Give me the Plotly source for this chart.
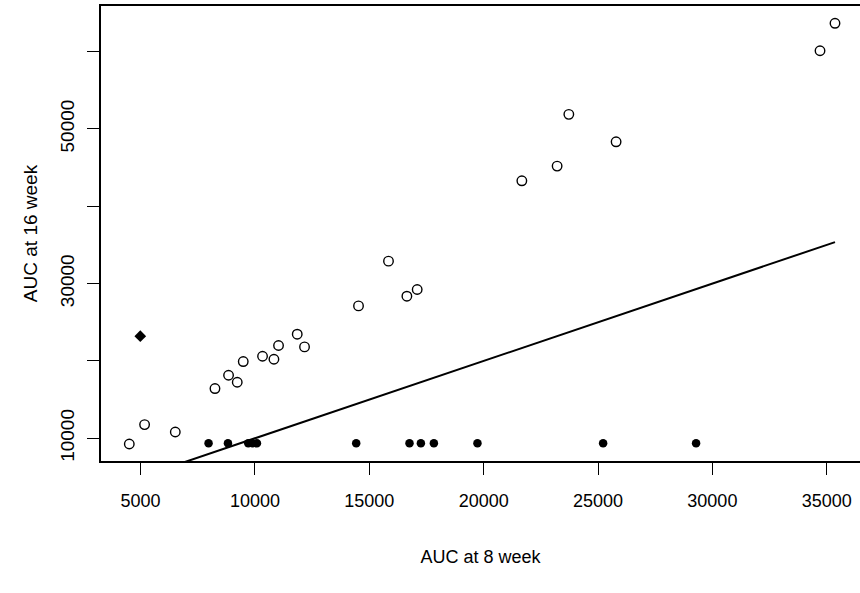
import plotly.graph_objects as go

# Open circles (AUC at 8 week, AUC at 16 week)
open_x = [4506, 5175, 6517, 8252, 8846, 9226, 9488, 10332, 10830, 11031, 11849, 12168,
          14528, 15839, 16643, 17094, 21670, 23212, 23724, 25791, 34707, 35362]
open_y = [9263, 11772, 10815, 16430, 18150, 17245, 19922, 20608, 20220, 21992, 23454, 21811,
          27115, 32898, 28370, 29236, 43286, 45188, 51876, 48331, 60103, 63648]

# Filled dots along the bottom
filled_x = [7972, 8820, 9707, 9895, 10087, 14427, 16757, 17255, 17823, 19729, 25223, 29288]
filled_y = [9350] * len(filled_x)

# Filled diamond
diamond_x = [4987]
diamond_y = [23195]

# Identity line y = x over the data range
all_x = open_x + filled_x + diamond_x
line_x = [min(all_x), max(all_x)]
line_y = list(line_x)

x_tickvals = [5000, 10000, 15000, 20000, 25000, 30000, 35000]
x_ticktext = ["5000", "10000", "15000", "20000", "25000", "30000", "35000"]
y_tickvals = [10000, 20000, 30000, 40000, 50000, 60000]
y_ticktext = ["10000", "", "30000", "", "50000", ""]

FONT = "Liberation Sans, Arial, Helvetica, sans-serif"

fig = go.Figure()
fig.add_trace(go.Scatter(x=line_x, y=line_y, mode="lines",
                         line=dict(color="black", width=2), showlegend=False))
fig.add_trace(go.Scatter(x=open_x, y=open_y, mode="markers",
                         marker=dict(symbol="circle-open", size=9.5, color="black",
                                     line=dict(width=1.4, color="black")),
                         showlegend=False))
fig.add_trace(go.Scatter(x=filled_x, y=filled_y, mode="markers",
                         marker=dict(symbol="circle", size=8.5, color="black"),
                         showlegend=False))
fig.add_trace(go.Scatter(x=diamond_x, y=diamond_y, mode="markers",
                         marker=dict(symbol="diamond", size=9, color="black"),
                         showlegend=False))

fig.update_layout(
    width=860, height=593,
    margin=dict(l=101, r=0, t=6, b=132),
    paper_bgcolor="white", plot_bgcolor="white",
    font=dict(family=FONT, color="black"),
    hovermode=False,
    xaxis=dict(range=[3269, 36455], showgrid=False, zeroline=False,
               showline=True, linecolor="black", linewidth=1.5, mirror=True,
               ticks="outside", ticklen=12, tickwidth=1, tickcolor="black",
               tickvals=x_tickvals, ticktext=x_ticktext,
               tickfont=dict(size=18), ticklabelstandoff=11,
               title=dict(text="AUC at 8 week", font=dict(size=18), standoff=40)),
    yaxis=dict(range=[7063, 65886], showgrid=False, zeroline=False,
               showline=True, linecolor="black", linewidth=1.5, mirror=False,
               ticks="outside", ticklen=12, tickwidth=1, tickcolor="black",
               tickvals=y_tickvals, ticktext=y_ticktext, tickangle=-90,
               tickfont=dict(size=19), ticklabelstandoff=6,
               title=dict(text="AUC at 16 week", font=dict(size=19), standoff=14)),
)

fig.write_html("out.html", config={"displayModeBar": False},
               post_script="document.body.style.margin='0';document.body.style.overflow='hidden';")
